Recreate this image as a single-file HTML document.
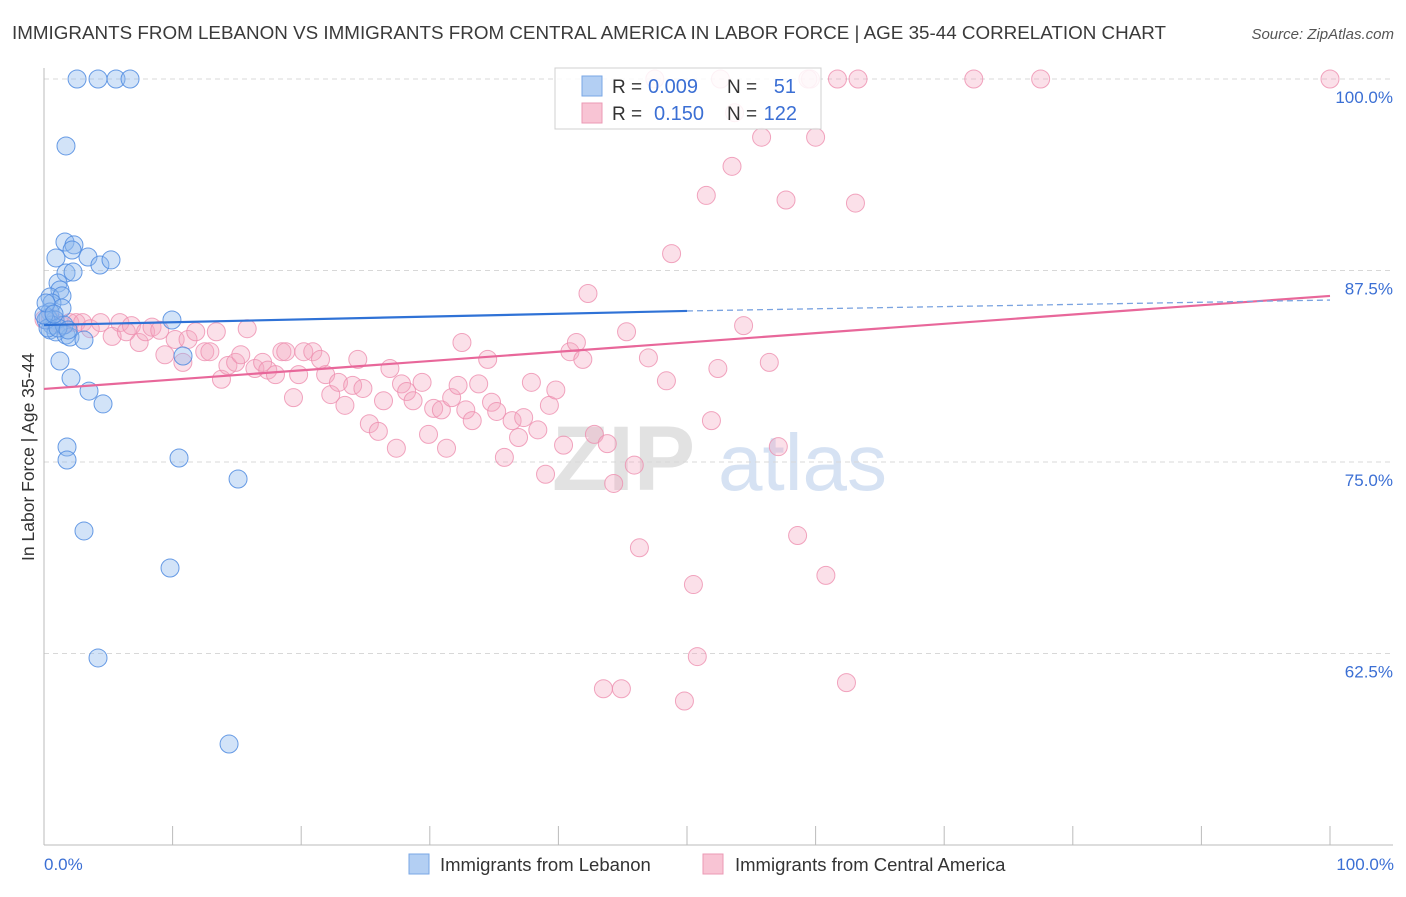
<!DOCTYPE html>
<html><head><meta charset="utf-8"><style>
body{margin:0;background:#fff;font-family:"Liberation Sans",sans-serif;}
svg text{font-family:"Liberation Sans",sans-serif;}
</style></head><body>
<svg id="chart" width="1406" height="892" viewBox="0 0 1406 892" xmlns="http://www.w3.org/2000/svg">
<text x="12" y="39" font-size="18.5" fill="#3a3a3a" textLength="1154" lengthAdjust="spacingAndGlyphs">IMMIGRANTS FROM LEBANON VS IMMIGRANTS FROM CENTRAL AMERICA IN LABOR FORCE | AGE 35-44 CORRELATION CHART</text>
<text x="1394" y="39" font-size="15" fill="#555" font-style="italic" text-anchor="end">Source: ZipAtlas.com</text>
<g>
<text x="552" y="490" font-size="92" fill="#e2e2e2" font-family="Liberation Serif" font-weight="bold">ZIP</text>
<text x="718" y="490" font-size="80" fill="#d6e2f3">atlas</text>
</g>
<g id="grid"></g>
<g id="axes"></g>
<g id="pts-pink"></g>
<g id="pts-blue"></g>
<g id="trends"></g>
<text transform="translate(34,457) rotate(-90)" font-size="17.5" fill="#333" text-anchor="middle">In Labor Force | Age 35-44</text>
<text x="44" y="870" font-size="17" fill="#3b6fd4">0.0%</text>
<text x="1394" y="870" font-size="17" fill="#3b6fd4" text-anchor="end">100.0%</text>
<g>
<rect x="555" y="68" width="266" height="61" fill="#fff" fill-opacity="0.85" stroke="#d0d0d0"/>
<rect x="582" y="76" width="20" height="20" fill="#b3cff3" stroke="#7aa7e6"/>
<rect x="582" y="103" width="20" height="20" fill="#f8c4d4" stroke="#eb9ab4"/>
<text x="612" y="93" font-size="19" fill="#333">R =</text>
<text x="648" y="93" font-size="20" fill="#3b6fd4">0.009</text>
<text x="727" y="93" font-size="19" fill="#333">N =</text>
<text x="796" y="93" font-size="20" fill="#3b6fd4" text-anchor="end">51</text>
<text x="612" y="120" font-size="19" fill="#333">R =</text>
<text x="654" y="120" font-size="20" fill="#3b6fd4">0.150</text>
<text x="727" y="120" font-size="19" fill="#333">N =</text>
<text x="797" y="120" font-size="20" fill="#3b6fd4" text-anchor="end">122</text>
</g>
<g>
<rect x="409" y="854" width="20" height="20" fill="#b3cff3" stroke="#7aa7e6"/>
<text x="440" y="871" font-size="18.5" fill="#333">Immigrants from Lebanon</text>
<rect x="703" y="854" width="20" height="20" fill="#f8c4d4" stroke="#eb9ab4"/>
<text x="735" y="871" font-size="18.5" fill="#333">Immigrants from Central America</text>
</g>
</svg>
<script>
const yTicks=[100,87.5,75,62.5];
const yTickLabels=["100.0%","87.5%","75.0%","62.5%"];
const xTicks=[0,10,20,30,40,50,60,70,80,90,100];
const blueX=[2.57,4.2,5.6,6.69,1.71,1.63,2.33,2.18,0.93,3.42,4.35,5.21,1.71,2.26,1.09,1.24,0.47,1.4,0.62,1.4,0.47,0.31,0.86,0.62,0.47,0.93,1.71,2.02,3.11,9.95,10.81,1.24,2.1,3.5,4.59,1.79,1.79,10.5,15.09,3.11,9.8,4.2,14.39,0.16,0.31,1.56,1.09,0,0.16,1.87,0.78];
const blueY=[100,100,100,100,95.63,89.36,89.17,88.84,88.32,88.38,87.86,88.19,87.34,87.4,86.68,86.23,85.77,85.84,85.38,85.05,84.79,84.4,84.27,83.94,83.62,83.49,83.29,83.16,82.96,84.27,81.92,81.59,80.48,79.63,78.79,75.98,75.13,75.26,73.89,70.5,68.08,62.21,56.59,84.27,83.75,83.94,83.75,84.6,85.38,83.62,84.66];
const pinkX=[0,0.5,0.9,1.4,2.0,2.5,3.0,3.6,4.4,5.3,5.9,6.4,6.8,7.4,7.9,8.4,9.0,9.4,10.2,10.8,11.2,11.8,12.5,12.9,13.4,13.8,14.3,14.9,15.3,15.8,16.4,17.0,17.4,18.0,18.5,18.8,19.4,19.8,20.2,20.9,21.5,21.9,22.3,22.9,23.4,24.0,24.4,24.8,25.3,26.0,26.4,26.9,27.4,27.8,28.2,28.7,29.4,29.9,30.3,30.9,31.3,31.7,32.2,32.5,32.8,33.3,33.8,34.5,34.8,35.2,35.8,36.4,36.9,37.3,37.9,38.4,39.0,39.3,39.8,40.4,40.9,41.4,41.9,42.3,42.8,43.5,43.8,44.3,44.9,45.3,45.9,46.3,47.0,48.4,48.8,49.8,50.5,50.8,51.5,51.9,52.4,53.5,54.4,55.8,56.4,57.1,57.7,58.6,59.6,60.0,60.8,61.7,62.4,63.1,63.3,72.3,77.5,100,47.5,52.6,53.7,59.4];
const pinkY=[84.3,84.4,84.1,83.9,84.1,84.1,84.1,83.7,84.1,83.2,84.1,83.5,83.9,82.8,83.5,83.8,83.6,82.0,83.0,81.5,83.0,83.5,82.2,82.2,83.5,80.4,81.3,81.5,82.0,83.7,81.1,81.5,81.0,80.7,82.2,82.2,79.2,80.7,82.2,82.2,81.7,80.7,79.4,80.2,78.7,80.0,81.7,79.8,77.5,77.0,79.0,81.1,75.9,80.1,79.6,79.0,80.2,76.8,78.5,78.4,75.9,79.2,80.0,82.8,78.4,77.7,80.1,81.7,78.9,78.3,75.3,77.7,76.6,77.9,80.2,77.1,74.2,78.7,79.7,76.1,82.2,82.8,81.7,86.0,76.8,60.2,76.2,73.6,60.2,83.5,74.8,69.4,81.8,80.3,88.6,59.4,67.0,62.3,92.4,77.7,81.1,94.3,83.9,96.2,81.5,76.0,92.1,70.2,100,96.2,67.6,100,60.6,91.9,100,100,100,100,100,100,97.8,100];
const blueTrend=[83.94,84.86,85.57]; // values at x=0, 50, 100
const pinkTrend=[79.77,85.84]; // values at x=0, 100

const X0=44,X1=1330,Y100=79,PXPER=15.32;
const sx=v=>X0+(X1-X0)*v/100;
const sy=v=>Y100+(100-v)*PXPER;
const NS="http://www.w3.org/2000/svg";
function mk(tag,attrs,parent){const e=document.createElementNS(NS,tag);for(const k in attrs)e.setAttribute(k,attrs[k]);parent.appendChild(e);return e;}
const grid=document.getElementById('grid'),axes=document.getElementById('axes');
yTicks.forEach((t,i)=>{
 const l=mk('line',{x1:44,x2:1393,y1:sy(t),y2:sy(t),stroke:'#d8d8d8','stroke-dasharray':'5,4'},grid);
 
 
 const tx=mk('text',{x:1393,y:sy(t)+24,'font-size':17,fill:'#3b6fd4','text-anchor':'end'},axes);
 tx.textContent=yTickLabels[i];
 
 
});
const ya=mk('line',{x1:44,x2:44,y1:68,y2:845,stroke:'#bbb'},axes);


const xa=mk('line',{x1:44,x2:1393,y1:845,y2:845,stroke:'#bbb'},axes);


xTicks.forEach(t=>{
 const l=mk('line',{x1:sx(t),x2:sx(t),y1:826,y2:845,stroke:'#bbb'},axes);
 
 
});
const gp=document.getElementById('pts-pink');
pinkX.forEach((x,i)=>{
 const c=mk('circle',{cx:sx(x),cy:sy(pinkY[i]),r:9,fill:'#f4a6bf','fill-opacity':0.35,stroke:'#ee8faf','stroke-opacity':0.8,'stroke-width':1},gp);
 
 
});
const gb=document.getElementById('pts-blue');
blueX.forEach((x,i)=>{
 const c=mk('circle',{cx:sx(x),cy:sy(blueY[i]),r:9,fill:'#8fb8ee','fill-opacity':0.4,stroke:'#4f8be0','stroke-opacity':0.85,'stroke-width':1},gb);
 
 
});
const tr=document.getElementById('trends');
const pl=mk('line',{x1:sx(0),y1:sy(pinkTrend[0]),x2:sx(100),y2:sy(pinkTrend[1]),stroke:'#e8679a','stroke-width':2.2},tr);


const bl=mk('line',{x1:sx(0),y1:sy(blueTrend[0]),x2:sx(50),y2:sy(blueTrend[1]),stroke:'#2f72d6','stroke-width':2.2},tr);


const bd=mk('line',{x1:sx(50),y1:sy(blueTrend[1]),x2:sx(100),y2:sy(blueTrend[2]),stroke:'#7aa3e0','stroke-width':1.3,'stroke-dasharray':'6,4'},tr);


</script>
</body></html>
